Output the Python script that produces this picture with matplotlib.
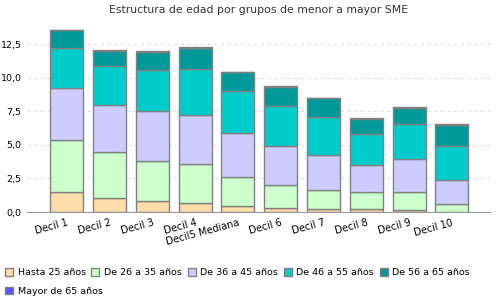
import numpy as np
import matplotlib.pyplot as plt
from matplotlib.ticker import FuncFormatter
from matplotlib.patches import Patch

deciles = ['Decil 1', 'Decil 2', 'Decil 3', 'Decil 4', 'Decil5 Mediana',
           'Decil 6', 'Decil 7', 'Decil 8', 'Decil 9', 'Decil 10']
series_names = ['Hasta 25 años', 'De 26 a 35 años', 'De 36 a 45 años',
                'De 46 a 55 años', 'De 56 a 65 años', 'Mayor de 65 años']
hasta_25 = [1.46, 1.02, 0.80, 0.65, 0.42, 0.27, 0.20, 0.20, 0.12, 0.03]
de_26_35 = [3.87, 3.42, 2.97, 2.90, 2.16, 1.71, 1.41, 1.26, 1.34, 0.54]
de_36_45 = [3.87, 3.56, 3.72, 3.71, 3.27, 2.90, 2.60, 2.01, 2.46, 1.79]
de_46_55 = [3.02, 2.90, 3.11, 3.42, 3.15, 3.05, 2.83, 2.31, 2.60, 2.52]
de_56_65 = [1.33, 1.10, 1.35, 1.57, 1.40, 1.39, 1.44, 1.16, 1.26, 1.61]
mayor_65 = [0.04, 0.04, 0.03, 0.03, 0.04, 0.03, 0.03, 0.04, 0.04, 0.04]

colores = ['#FFDDAA', '#CCFFCC', '#CCCCFF', '#00CCCC', '#009999', '#5555FF']

fig = plt.figure(figsize=(5, 3), dpi=100)
ax = fig.add_axes([0.054, 0.2933, 0.926, 0.64])

x = np.arange(len(deciles))
base = np.zeros(len(deciles))
for nombre, valores, color in zip(series_names,
                                  [hasta_25, de_26_35, de_36_45, de_46_55, de_56_65, mayor_65],
                                  colores):
    ax.bar(x, valores, bottom=base, width=0.77, color=color,
           edgecolor='#808080', linewidth=1, label=nombre, zorder=2)
    base += np.array(valores)

ax.set_xlim(-0.93, 9.89)
ax.set_ylim(0, 14.3)
ax.set_yticks([0, 2.5, 5, 7.5, 10, 12.5])
ax.yaxis.set_major_formatter(FuncFormatter(lambda v, p: f'{v:.1f}'.replace('.', ',')))
ax.grid(axis='y', linestyle=(0, (3, 3)), color='#DDDDDD', linewidth=0.8, zorder=0)
for lado in ['top', 'right', 'left']:
    ax.spines[lado].set_visible(False)
ax.spines['bottom'].set_color('#999999')
ax.tick_params(axis='y', length=0, labelsize=6.8, pad=4)
ax.tick_params(axis='x', length=0, labelsize=7, pad=4)
ax.set_xticks(x)
ax.set_xticklabels(deciles, rotation=15, ha='right', rotation_mode='anchor')

ax.set_title('Estructura de edad por grupos de menor a mayor SME', fontsize=7.8, color='#333333', pad=5)

handles = [Patch(facecolor=c, edgecolor='#808080', label=n) for c, n in zip(colores, series_names)]
kw = dict(loc='upper left', frameon=False, fontsize=6.8, handlelength=0.85, handleheight=0.85,
          handletextpad=0.5, columnspacing=0.6, borderaxespad=0.2, borderpad=0.1)
leg1 = fig.legend(handles=handles[:5], ncol=5, bbox_to_anchor=(0.004, 0.115), **kw)
leg2 = fig.legend(handles=handles[5:], ncol=1, bbox_to_anchor=(0.004, 0.053), **kw)

fig.savefig('out.png', dpi=100)
